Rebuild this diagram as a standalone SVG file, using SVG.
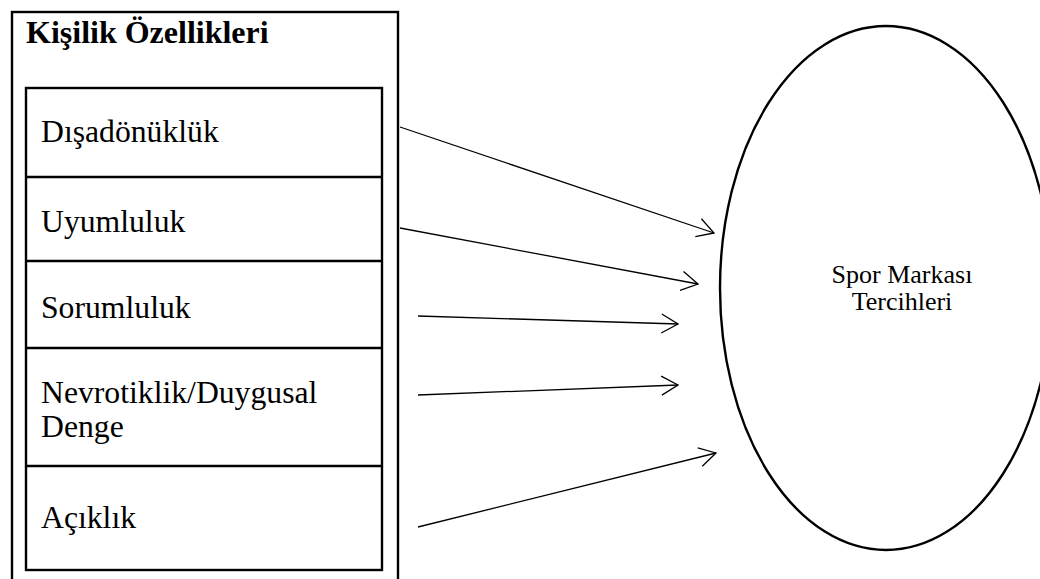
<svg xmlns="http://www.w3.org/2000/svg" width="1040" height="579" viewBox="0 0 1040 579">
  <style>
    .frame { fill: none; stroke: #000; stroke-width: 2.4; }
    .item { font-family: "Liberation Serif", "Times New Roman", serif; font-size: 31.7px; fill: #000; }
    .title { font-family: "Liberation Serif", "Times New Roman", serif; font-size: 32px; font-weight: bold; fill: #000; }
    .oval-label { font-family: "Liberation Serif", "Times New Roman", serif; font-size: 26px; fill: #000; text-anchor: middle; }
    .link { fill: none; stroke: #000; stroke-width: 1.3; marker-end: url(#open-arrow); }
  </style>
  <defs>
    <marker id="open-arrow" markerUnits="userSpaceOnUse" markerWidth="24" markerHeight="24" viewBox="-20 -12 24 24" refX="0" refY="0" orient="auto" overflow="visible">
      <path d="M -16.5 -9.5 L 0 0 L -16.5 9.5" fill="none" stroke="#000" stroke-width="1.3"/>
    </marker>
  </defs>
  <rect width="1040" height="579" fill="#fff"/>

  <!-- personality traits panel -->
  <g id="traits">
    <rect class="frame" x="12" y="12" width="386" height="600"/>
    <text class="title" x="26" y="43">Kişilik Özellikleri</text>
    <rect class="frame" x="26" y="88" width="356" height="482"/>
  </g>

  <g id="trait-extraversion">
    <line class="frame" x1="26" y1="177" x2="382" y2="177"/>
    <text class="item" x="41" y="142">Dışadönüklük</text>
  </g>
  <g id="trait-agreeableness">
    <line class="frame" x1="26" y1="261" x2="382" y2="261"/>
    <text class="item" x="41" y="232">Uyumluluk</text>
  </g>
  <g id="trait-conscientiousness">
    <line class="frame" x1="26" y1="348" x2="382" y2="348"/>
    <text class="item" x="41" y="318">Sorumluluk</text>
  </g>
  <g id="trait-neuroticism">
    <line class="frame" x1="26" y1="466" x2="382" y2="466"/>
    <text class="item" x="41" y="403">Nevrotiklik/Duygusal</text>
    <text class="item" x="41" y="437">Denge</text>
  </g>
  <g id="trait-openness">
    <text class="item" x="41" y="528">Açıklık</text>
  </g>

  <!-- outcome oval -->
  <g id="brand-preference">
    <ellipse class="frame" cx="886" cy="288" rx="166" ry="262"/>
    <text class="oval-label" x="902" y="283">Spor Markası</text>
    <text class="oval-label" x="902" y="310">Tercihleri</text>
  </g>

  <!-- connectors -->
  <g id="connectors">
    <line class="link" x1="400" y1="127" x2="714" y2="233"/>
    <line class="link" x1="400" y1="228" x2="698" y2="284"/>
    <line class="link" x1="418" y1="316" x2="678" y2="324"/>
    <line class="link" x1="418" y1="395" x2="678" y2="385"/>
    <line class="link" x1="418" y1="527" x2="716" y2="453"/>
  </g>
</svg>
